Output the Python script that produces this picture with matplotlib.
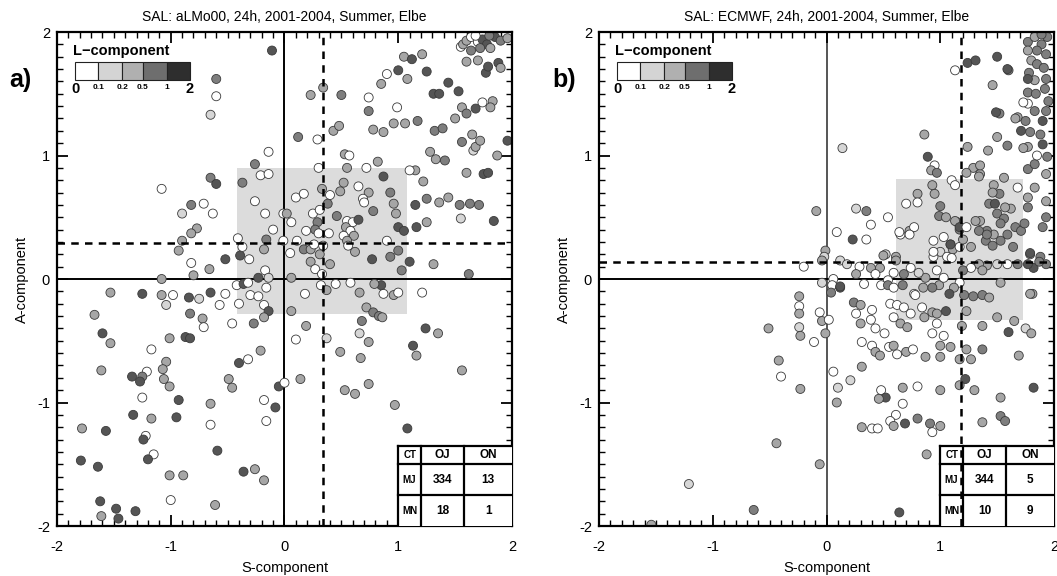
import matplotlib
matplotlib.use('Agg')
import matplotlib.pyplot as plt
from matplotlib.colors import ListedColormap, BoundaryNorm
from matplotlib.patches import Rectangle
from matplotlib.ticker import MultipleLocator

plt.rcParams['font.family'] = ['Liberation Sans', 'DejaVu Sans']
plt.rcParams['axes.unicode_minus'] = False

# ---------------- data ----------------
titles = ['SAL: aLMo00, 24h, 2001-2004, Summer, Elbe',
          'SAL: ECMWF, 24h, 2001-2004, Summer, Elbe']
panel_labels = ['a)', 'b)']
x_label = 'S-component'
y_label = 'A-component'
ticks = [-2, -1, 0, 1, 2]
l_title = 'L\u2212component'
l_bounds = [0, 0.1, 0.2, 0.5, 1, 2]
l_tick_labels = ['0', '0.1', '0.2', '0.5', '1', '2']
point_colors = ['#ffffff', '#d6d6d6', '#a6a6a6', '#7e7e7e', '#555555']
legend_colors = ['#ffffff', '#d4d4d4', '#b0b0b0', '#6e6e6e', '#2e2e2e']

# Panel a (aLMo00): S, A, L values
s_a = [-0.11, -0.60, -0.60, -0.65, -1.08, -0.65, -0.60, -0.82, -0.71, -0.90, -0.63, -0.77, -0.82, -0.90, -0.93,
       -0.82, -0.52, -0.80, -0.66, -1.08, -0.39, -0.31, -0.37, -0.26, -0.21, -0.14, -0.14, -0.26, -0.17, -0.10,
       -0.41, -0.37, -0.16, -0.18, -0.17, -0.23, -0.14, -0.42, -0.36, -0.01, 0.02, -0.01, 0.06, 0.12, 0.23,
       0.34, 0.50, 0.29, 0.43, 0.48, 0.53, 0.57, 0.30, 0.33, 0.55, 0.72, 0.82, 0.87, 0.10, 0.17,
       0.40, 0.52, 0.49, 0.65, 0.74, 0.69, 0.70, 0.78, 0.93, 0.96, 0.98, 0.25, 0.31, 0.38, 0.46,
       0.55, 0.60, 0.65, 0.29, 0.27, 0.19, 0.30, 0.39, 0.54, 0.58, 0.61, 0.52, 0.55, 0.11, 0.17,
       0.23, 0.26, 0.34, 0.56, 0.90, 1.00, 1.05, 0.05, 0.23, 0.31, 0.40, 0.27, 0.33, 0.62, 0.77,
       0.93, 1.00, 1.03, 1.10, 1.31, 1.62, 0.06, 1.16, 1.25, 1.15, 1.25, 1.36, 1.44, 1.54, 1.63,
       1.71, 1.55, 1.84, 1.22, 1.15, 1.10, 1.28, 1.41, 1.33, 1.60, 1.75, 1.79, 1.87, 1.66, 1.68,
       1.56, 1.65, 1.72, 1.96, 1.32, 1.39, 1.17, 0.96, 1.06, 0.78, 0.87, 0.74, 0.99, 0.74, 0.85,
       0.90, 1.00, 1.08, 1.05, 1.12, 1.21, 1.25, 1.31, 1.36, 1.44, 1.53, 1.56, 1.60, 1.68, 1.50,
       1.74, 1.83, 1.81, 1.60, 1.70, 1.77, 1.79, 1.88, 1.90, 1.55, 1.57, 1.60, 1.64, 1.64, 1.70,
       1.74, 1.78, 1.81, 1.85, 1.90, 1.96, 1.72, 1.80, 1.68,
       -1.53, -1.25, -1.08, -0.98, -1.04, -0.84, -0.75, -0.65, -0.52, -0.57, -0.83, -0.72, -0.71, -1.67, -1.60,
       -1.53, -1.17, -1.01, -0.87, -0.83, -1.04, -1.07, -1.21, -1.25, -1.34, -1.27, -1.06, -1.01, -1.61, -1.25,
       -0.93, -1.33, -1.17, -0.95, -1.78, -1.57, -1.22, -1.24, -1.15, -1.20, -1.79, -1.64, -1.01, -0.89, -1.62,
       -1.48, -1.61, -1.46, -1.31, -1.00, -0.61, -0.59, -0.65, -0.65, -0.36, -0.26, -0.18, -0.16, -0.18, -0.08,
       -0.05, 0.00, -0.49, -0.46, -0.40, -0.32, -0.21, -0.27, -0.46, -0.40, -0.30, -0.23, -0.18, -0.14, -0.18,
       -0.16, -0.32, 0.06, 0.10, 0.19, 0.18, 0.14, 0.32, 0.37, 0.45, 0.58, 0.66, 0.72, 0.78, 0.83,
       0.86, 0.68, 0.87, 0.96, 1.00, 0.85, 0.79, 0.66, 0.74, 0.37, 0.49, 0.67, 0.53, 0.62, 0.74,
       0.97, 1.08, 1.13, 1.16, 1.24, 1.35, 1.56, 1.21]
a_a = [1.85, 1.62, 1.48, 1.33, 0.73, 0.82, 0.77, 0.60, 0.61, 0.53, 0.53, 0.41, 0.37, 0.31, 0.23,
       0.13, 0.16, 0.03, 0.08, 0.00, 0.19, 0.16, 0.78, 0.93, 0.84, 0.85, 1.03, 0.63, 0.53, 0.40,
       0.33, 0.26, 0.32, 0.24, 0.07, 0.01, 0.01, -0.05, -0.04, 0.53, 0.53, 0.31, 0.46, 1.15, 1.49,
       1.55, 1.49, 1.13, 1.20, 1.24, 1.01, 1.00, 0.90, 0.73, 0.90, 0.90, 0.95, 0.83, 0.66, 0.69,
       0.68, 0.78, 0.71, 0.75, 0.70, 0.65, 0.62, 0.55, 0.70, 0.61, 0.53, 0.53, 0.56, 0.61, 0.51,
       0.47, 0.46, 0.48, 0.46, 0.40, 0.39, 0.37, 0.37, 0.42, 0.39, 0.35, 0.35, 0.31, 0.31, 0.24,
       0.24, 0.28, 0.27, 0.27, 0.31, 0.42, 0.39, 0.21, 0.14, 0.20, 0.12, 0.08, 0.04, 0.22, 0.16,
       0.18, 0.23, 0.07, 0.14, 0.12, 0.04, 0.01, 0.42, 0.46, 0.60, 0.65, 0.62, 0.66, 0.60, 0.61,
       0.60, 0.49, 0.47, 0.79, 0.88, 0.88, 1.03, 0.96, 0.97, 0.86, 0.85, 0.86, 1.00, 1.04, 1.07,
       1.11, 1.17, 1.12, 1.12, 1.20, 1.22, 1.28, 1.26, 1.26, 1.21, 1.19, 1.36, 1.39, 1.47, 1.58,
       1.66, 1.69, 1.62, 1.80, 1.78, 1.82, 1.68, 1.50, 1.50, 1.59, 1.52, 1.39, 1.34, 1.38, 1.30,
       1.43, 1.44, 1.39, 1.76, 1.77, 1.67, 1.72, 1.75, 1.71, 1.88, 1.90, 1.93, 1.85, 1.96, 1.92,
       1.94, 1.90, 1.87, 1.96, 1.93, 1.95, 1.87, 1.97, 1.97,
       -0.11, -0.12, -0.13, -0.13, -0.21, -0.15, -0.16, -0.11, -0.12, -0.21, -0.28, -0.32, -0.39, -0.29, -0.44,
       -0.52, -0.57, -0.48, -0.47, -0.48, -0.67, -0.73, -0.75, -0.79, -0.79, -0.83, -0.81, -0.87, -0.74, -0.96,
       -0.98, -1.10, -1.13, -1.12, -1.21, -1.23, -1.27, -1.30, -1.42, -1.46, -1.47, -1.52, -1.59, -1.59, -1.80,
       -1.86, -1.92, -1.94, -1.88, -1.79, -1.83, -1.39, -1.01, -1.18, -1.56, -1.54, -1.63, -1.15, -0.98, -1.04,
       -0.87, -0.84, -0.81, -0.88, -0.68, -0.65, -0.58, -0.36, -0.36, -0.20, -0.13, -0.14, -0.21, -0.26, -0.31,
       -0.07, -0.03, -0.26, -0.49, -0.38, -0.12, -0.81, -0.05, -0.09, -0.04, -0.03, -0.11, -0.23, -0.27, -0.30,
       -0.31, -0.34, -0.12, -0.13, -0.11, -0.05, -0.04, -0.44, -0.51, -0.48, -0.59, -0.64, -0.90, -0.93, -0.85,
       -1.02, -1.21, -0.54, -0.62, -0.40, -0.44, -0.74, -0.11]
l_a = [1.5, 0.7, 0.05, 0.15, 0.05, 0.7, 1.5, 0.7, 0.05, 0.15, 0.05, 0.35, 0.35, 0.35, 0.35,
       0.05, 1.5, 0.35, 0.35, 0.35, 1.5, 0.05, 0.7, 0.7, 0.05, 0.05, 0.05, 0.05, 0.05, 0.05,
       0.05, 0.05, 0.7, 0.35, 0.05, 1.5, 0.15, 0.05, 1.5, 0.05, 0.35, 0.05, 0.05, 0.7, 0.35,
       0.35, 0.7, 0.05, 0.35, 0.35, 0.35, 0.05, 0.05, 0.35, 0.35, 0.05, 0.35, 1.5, 0.05, 0.05,
       0.05, 0.35, 0.35, 0.05, 0.35, 0.05, 0.05, 0.7, 0.7, 0.35, 0.35, 0.05, 0.05, 0.7, 0.7,
       0.05, 0.05, 1.5, 0.7, 0.7, 0.05, 0.05, 0.05, 0.35, 0.05, 0.35, 0.05, 0.35, 0.05, 0.7,
       0.35, 0.05, 0.05, 0.05, 0.05, 1.5, 1.5, 0.05, 0.35, 0.35, 0.35, 0.05, 0.05, 0.35, 1.5,
       0.7, 0.7, 0.7, 1.5, 0.35, 0.7, 0.35, 1.5, 0.35, 1.5, 0.7, 0.35, 0.35, 0.7, 0.7,
       0.7, 0.15, 1.5, 0.35, 0.35, 0.05, 0.35, 0.7, 0.35, 0.35, 1.5, 1.5, 0.35, 0.15, 0.35,
       0.7, 0.35, 0.35, 1.5, 0.7, 0.7, 0.7, 0.35, 0.35, 0.35, 0.35, 0.7, 0.05, 0.05, 0.35,
       0.05, 1.5, 0.35, 0.35, 1.5, 0.35, 1.5, 1.5, 1.5, 1.5, 1.5, 0.35, 0.7, 1.5, 0.35,
       0.05, 0.35, 0.35, 0.35, 0.35, 1.5, 1.5, 1.5, 0.35, 0.05, 0.35, 0.35, 0.7, 0.05, 0.05,
       1.5, 1.5, 0.35, 1.5, 0.7, 0.35, 0.7, 0.7, 0.05,
       0.35, 1.5, 0.35, 0.05, 0.15, 1.5, 0.15, 1.5, 0.05, 0.05, 0.7, 0.35, 0.05, 0.35, 1.5,
       0.35, 0.05, 0.35, 1.5, 1.5, 0.35, 0.35, 0.05, 0.7, 1.5, 1.5, 0.35, 0.35, 0.35, 0.05,
       1.5, 1.5, 0.35, 1.5, 0.35, 1.5, 0.05, 1.5, 0.05, 1.5, 1.5, 1.5, 0.35, 0.35, 1.5,
       1.5, 0.35, 1.5, 1.5, 0.05, 0.35, 1.5, 0.35, 0.05, 1.5, 0.35, 0.35, 0.05, 0.05, 1.5,
       1.5, 0.05, 0.35, 0.35, 1.5, 0.05, 0.35, 0.7, 0.05, 0.05, 0.05, 0.05, 0.05, 1.5, 0.35,
       0.05, 0.05, 0.35, 0.05, 0.35, 0.05, 0.35, 0.05, 0.35, 0.05, 0.05, 0.35, 0.35, 0.7, 0.7,
       0.35, 0.7, 0.05, 0.35, 0.05, 1.5, 0.35, 0.15, 0.35, 0.15, 0.35, 0.35, 0.35, 0.35, 0.35,
       0.35, 1.5, 1.5, 0.35, 1.5, 0.35, 0.35, 0.05]
box_a = [-0.42, 1.08, -0.28, 0.90]     # S25, S75, A25, A75
median_a = [0.34, 0.29]                # S, A
table_a = [['CT', 'OJ', 'ON'], ['MJ', '334', '13'], ['MN', '18', '1']]

# Panel b (ECMWF): S, A, L values
s_b = [-0.09, 0.14, -0.20, -0.01, -0.02, -0.04, 0.12, 0.18, 0.09, 0.23, 0.35, 0.26, 0.35, 0.39, 0.54,
       0.06, 0.05, 0.12, -0.04, 0.29, 0.39, 0.47, 0.52, 0.43, 0.61, 0.86, 0.89, 0.95, 0.92, 0.97,
       1.10, 1.13, 0.80, 0.70, 0.80, 0.95, 1.00, 0.99, 1.05, 1.15, 0.73, 0.77, 0.65, 1.03, 1.09,
       0.94, 1.00, 1.11, 1.17, 1.06, 0.94, 1.17, 1.20, 1.27, 1.24, 1.29, 1.35, 1.42, 1.50, 1.59,
       1.52, 1.46, 1.60, 1.50, 1.24, 1.13, 1.43, 1.50, 1.56, 1.62, 1.53, 1.68, 1.66, 1.71, 1.74,
       1.59, 1.53, 1.47, 1.41, 1.35, 1.34, 1.40, 1.46, 1.64, 1.52, 1.57, 1.47, 1.56, 1.77, 1.77,
       1.83, 1.77, 1.83, 1.77, 1.85, 1.90, 1.68, 1.75, 1.77, 1.83, 1.90, 1.93, 1.71, 1.79, 1.88,
       1.77, 1.84, 1.92, 1.78, 1.80, 1.85, 1.91, 1.77, 1.83, 1.89, 1.93, 1.94, 1.89, 1.85, 1.77,
       1.93, 1.83, 1.77, 1.95, 1.94, 1.93, 1.93, 1.93, 1.90, 1.79, 1.88, 1.93, 1.68, 1.82, 1.77,
       1.59, 1.50, 1.41, 1.34, 1.37, 1.53, 1.27, 1.20, 1.17, 1.12, 1.08, 0.99, 0.93, 0.85, 0.77,
       1.21, 1.29, 1.37, 1.43, 1.81, 1.03, 0.97, 0.87, 0.81, 0.74, 0.68, 0.59, 0.54, 0.48, 0.54,
       0.59, 0.67, 0.33, 0.26,
       1.31, 1.59, 1.49, 1.66, 1.73, 1.73, 1.35, 1.34, 1.23, 1.46, 1.48, 0.93, 0.64, 0.73, 1.13,
       1.17, 1.23, 1.31, 1.41, 1.09, 0.61, 0.50, 0.94, 1.10, 1.79, 1.87,
       -0.24, -0.24, -0.24, -0.24, -0.23, -0.51, -0.06, -0.04, 0.02, -0.01, -0.11, 0.04, 0.12, -0.42, -0.40,
       -0.23, 0.06, 0.21, 0.10, 0.09, 0.31, -0.44, -0.06, -1.21, -0.64, -1.54, 0.64, 0.24, 0.30, 0.26,
       0.30, 0.40, 0.39, 0.43, 0.51, 0.31, 0.40, 0.43, 0.47, 0.55, 0.59, 0.62, 0.70, 0.76, 0.59,
       0.65, 0.71, 0.56, 0.62, 0.68, 0.74, 0.78, 0.84, 0.86, 0.93, 0.97, 0.93, 1.03, 1.00, 1.09,
       0.87, 1.00, 1.05, 0.97, 1.23, 1.19, 1.23, 1.27, 1.17, 1.37, 1.37, 1.50, 1.60, 1.65, 1.75,
       1.80, 1.69, 1.79, 1.22, 1.17, 1.30, 1.00, 0.80, 0.67, 0.48, 0.52, 0.46, 0.67, 0.61, 0.56,
       0.59, 0.69, 0.80, 0.91, 1.00, 0.93, 0.31, 0.40, 0.45, 0.88, 1.37, 1.53, 1.57, 1.53, 1.82]
a_b = [0.55, 1.06, 0.10, 0.23, 0.18, 0.15, 0.15, 0.12, 0.38, 0.32, 0.32, 0.57, 0.55, 0.44, 0.50,
       0.00, -0.05, -0.07, -0.03, 0.10, 0.09, 0.09, 0.20, 0.04, 0.18, 1.17, 0.99, 0.92, 0.88, 0.86,
       0.80, 0.76, 0.69, 0.61, 0.62, 0.69, 0.59, 0.51, 0.50, 0.46, 0.39, 0.42, 0.36, 0.34, 0.28,
       0.31, 0.22, 0.24, 0.26, 0.18, 0.18, 0.40, 0.32, 0.26, 1.07, 0.90, 0.85, 1.04, 1.15, 1.08,
       1.34, 1.57, 1.69, 1.80, 1.75, 1.69, 0.61, 0.53, 0.49, 0.57, 0.45, 0.74, 0.42, 0.39, 0.45,
       0.36, 0.31, 0.36, 0.39, 0.47, 0.39, 0.31, 0.27, 0.26, 0.69, 0.58, 0.76, 0.82, 0.58, 0.66,
       0.74, 0.89, 0.93, 1.07, 1.00, 1.09, 1.31, 1.28, 1.42, 1.36, 1.28, 1.36, 1.20, 1.19, 1.17,
       1.51, 1.50, 1.54, 1.67, 1.77, 1.74, 1.71, 1.92, 1.96, 1.90, 1.82, 1.96, 1.98, 1.85, 1.85,
       1.62, 1.61, 1.62, 1.44, 0.99, 0.85, 0.63, 0.50, 0.42, 0.20, 0.18, 0.12, 0.12, 0.09, 0.12,
       0.12, 0.12, 0.11, 0.12, 0.07, -0.03, 0.09, 0.07, -0.03, -0.07, -0.12, -0.05, -0.07, -0.07, -0.12,
       -0.13, -0.14, -0.13, -0.15, -0.12, 0.01, 0.07, 0.01, 0.05, 0.09, 0.04, 0.05, -0.01, -0.05, -0.05,
       -0.07, -0.05, -0.04, 0.04,
       1.77, 1.70, 1.35, 1.30, 1.43, 1.06, 0.92, 0.83, 0.86, 0.70, 0.61, 0.76, 0.38, 0.36, 0.47,
       0.42, 0.42, 0.47, 0.36, 0.28, 0.15, 0.19, 0.22, 0.17, 0.21, 0.14,
       -0.14, -0.22, -0.28, -0.39, -0.46, -0.40, -0.27, -0.34, -0.33, -0.44, -0.51, -0.11, -0.06, -0.66, -0.79,
       -0.89, -0.75, -0.82, -0.88, -1.00, -0.71, -1.33, -1.50, -1.66, -1.87, -1.99, -1.89, -0.19, -0.21, -0.28,
       -0.36, -0.25, -0.33, -0.40, -0.44, -0.51, -0.54, -0.59, -0.62, -0.55, -0.54, -0.61, -0.59, -0.57, -0.31,
       -0.36, -0.39, -0.20, -0.21, -0.23, -0.28, -0.13, -0.23, -0.31, -0.27, -0.36, -0.44, -0.46, -0.54, -0.55,
       -0.63, -0.63, -0.26, -0.28, -0.26, -0.38, -0.57, -0.65, -0.65, -0.57, -0.38, -0.31, -0.43, -0.34, -0.40,
       -0.44, -0.62, -0.12, -0.81, -0.86, -0.90, -0.90, -0.87, -0.88, -0.90, -0.96, -0.97, -1.01, -1.10, -1.15,
       -1.19, -1.17, -1.13, -1.17, -1.19, -1.24, -1.20, -1.21, -1.21, -1.42, -1.16, -1.11, -1.15, -0.96, -0.88]
l_b = [0.35, 0.15, 0.05, 0.35, 0.15, 0.35, 0.15, 0.15, 0.05, 1.5, 0.05, 0.15, 0.7, 0.05, 0.05,
       0.05, 0.05, 1.5, 0.15, 0.05, 0.35, 0.35, 0.15, 0.05, 0.35, 0.35, 1.5, 0.05, 0.35, 0.7,
       0.05, 0.05, 0.35, 0.05, 0.05, 0.35, 0.7, 0.7, 0.35, 0.7, 0.35, 0.05, 0.05, 0.05, 0.35,
       0.05, 0.15, 0.35, 0.05, 0.05, 0.05, 0.7, 0.35, 0.35, 0.35, 0.35, 0.35, 0.35, 0.35, 0.7,
       0.7, 0.35, 0.7, 1.5, 1.5, 0.05, 0.7, 0.7, 0.7, 0.35, 0.7, 0.05, 0.7, 0.7, 0.7,
       0.7, 0.7, 0.35, 0.7, 0.35, 0.7, 0.7, 0.7, 0.7, 0.7, 0.35, 0.35, 0.35, 0.7, 0.35,
       0.35, 0.7, 0.7, 0.35, 0.05, 1.5, 0.35, 0.7, 0.05, 0.7, 1.5, 0.7, 1.5, 0.7, 0.7,
       0.7, 0.7, 0.7, 0.7, 0.35, 0.7, 0.7, 0.7, 0.35, 0.7, 0.7, 0.7, 0.7, 0.7, 0.35,
       0.7, 0.35, 1.5, 0.7, 0.7, 0.35, 0.35, 0.7, 0.7, 0.35, 0.7, 0.7, 0.7, 1.5, 1.5,
       0.05, 0.15, 0.35, 0.35, 0.35, 0.35, 0.05, 0.7, 0.05, 0.35, 1.5, 0.35, 0.7, 0.35, 0.05,
       0.7, 0.7, 0.7, 0.35, 0.35, 0.05, 0.05, 0.35, 0.15, 0.05, 0.7, 0.05, 0.05, 0.05, 0.7,
       0.05, 0.7, 0.05, 0.35,
       1.5, 1.5, 1.5, 0.35, 0.05, 0.35, 0.35, 0.35, 0.35, 0.35, 1.5, 0.35, 0.05, 0.05, 0.35,
       1.5, 0.05, 0.35, 0.7, 1.5, 0.35, 0.35, 0.05, 0.05, 1.5, 0.7,
       0.35, 0.05, 0.35, 0.15, 0.35, 0.35, 0.05, 0.35, 0.05, 0.35, 0.05, 0.7, 1.5, 0.35, 0.05,
       0.35, 0.05, 0.15, 0.15, 0.35, 0.35, 0.35, 0.35, 0.15, 0.7, 0.35, 1.5, 0.7, 0.35, 0.05,
       0.35, 0.05, 0.05, 0.05, 0.05, 0.05, 0.05, 0.35, 0.35, 0.05, 0.35, 0.05, 0.35, 0.05, 0.05,
       0.35, 0.35, 0.05, 0.05, 0.05, 0.05, 0.05, 0.05, 0.35, 0.35, 0.05, 0.05, 0.05, 0.35, 0.35,
       0.35, 0.35, 1.5, 0.35, 0.35, 0.35, 0.35, 0.35, 0.35, 0.7, 0.35, 0.35, 1.5, 0.35, 0.15,
       0.35, 0.35, 0.35, 1.5, 0.35, 0.35, 0.35, 0.05, 0.35, 0.05, 1.5, 0.35, 0.05, 0.05, 0.05,
       0.35, 1.5, 0.7, 0.7, 0.35, 0.05, 0.35, 0.05, 0.05, 0.35, 0.35, 0.7, 0.7, 0.35, 1.5]
box_b = [0.61, 1.73, -0.33, 0.81]
median_b = [1.18, 0.14]
table_b = [['CT', 'OJ', 'ON'], ['MJ', '344', '5'], ['MN', '10', '9']]

# ---------------- drawing ----------------
cmap = ListedColormap(point_colors)
norm = BoundaryNorm(l_bounds, cmap.N)

fig = plt.figure(figsize=(10.57, 5.76), dpi=100)
ax_a = fig.add_axes([0.0539, 0.0868, 0.4305, 0.8576])
ax_b = fig.add_axes([0.5667, 0.0868, 0.4305, 0.8576])

panels = [
    (ax_a, s_a, a_a, l_a, box_a, median_a, table_a, titles[0], panel_labels[0], 0.019, 'black'),
    (ax_b, s_b, a_b, l_b, box_b, median_b, table_b, titles[1], panel_labels[1], 0.534, '#555555'),
]

for ax, s, a, l, box, med, table, title, plabel, plx, vcol in panels:
    ax.set_xlim(-2, 2)
    ax.set_ylim(-2, 2)
    # interquartile box
    ax.add_patch(Rectangle((box[0], box[2]), box[1] - box[0], box[3] - box[2],
                           facecolor='#dcdcdc', edgecolor='none', zorder=0))
    # zero lines
    ax.axvline(0, color=vcol, lw=1.4, zorder=1)
    ax.axhline(0, color='black', lw=1.4, zorder=1)
    # points
    ax.scatter(s, a, c=l, cmap=cmap, norm=norm, s=42, edgecolors='#3a3a3a',
               linewidths=0.6, zorder=2)
    # contingency table
    xe = [1.0, 1.2, 1.58, 2.0]
    ye = [-1.35, -1.5, -1.75, -2.0]
    ax.add_patch(Rectangle((xe[0], ye[-1]), xe[-1] - xe[0], ye[0] - ye[-1],
                           facecolor='white', edgecolor='none', zorder=3))
    for xv in xe[:3]:
        ax.plot([xv, xv], [ye[0], ye[-1]], color='black', lw=1.6, zorder=4,
                solid_capstyle='projecting')
    for yv in ye[:3]:
        ax.plot([xe[0], xe[-1]], [yv, yv], color='black', lw=1.6, zorder=4,
                solid_capstyle='projecting')
    for r in range(3):
        for c in range(3):
            cx = (xe[c] + xe[c + 1]) / 2
            cy = (ye[r] + ye[r + 1]) / 2
            txt = table[r][c]
            fs = 7 if c == 0 else 8.5
            ax.text(cx, cy, txt, ha='center', va='center', fontsize=fs,
                    fontweight='bold', zorder=5)
    # median lines
    ax.axvline(med[0], color='black', lw=1.8, ls=(0, (3, 2.5)), zorder=6)
    ax.axhline(med[1], color='black', lw=1.8, ls=(0, (3, 2.5)), zorder=6)

    # ticks
    ax.set_xticks(ticks)
    ax.set_yticks(ticks)
    ax.xaxis.set_minor_locator(MultipleLocator(0.1))
    ax.yaxis.set_minor_locator(MultipleLocator(0.1))
    ax.tick_params(which='major', direction='in', top=True, right=True,
                   length=8, width=1.3, labelsize=10.5)
    ax.tick_params(which='minor', direction='in', top=True, right=True,
                   length=4, width=1.0)
    ax.tick_params(axis='x', which='major', pad=10)
    ax.tick_params(axis='y', which='major', pad=5)
    for sp in ax.spines.values():
        sp.set_linewidth(1.6)
    ax.set_xlabel(x_label, fontsize=10.5, labelpad=5)
    ax.set_ylabel(y_label, fontsize=10.5, labelpad=6)
    ax.set_title(title, fontsize=10, pad=8)

    # L-component legend
    ax.text(0.035, 0.962, l_title, transform=ax.transAxes, fontsize=10.5,
            fontweight='bold', ha='left', va='center', zorder=7)
    bx0, bx1, by0, by1 = 0.040, 0.292, 0.903, 0.939
    fr = [0.0, 0.2, 0.41, 0.59, 0.80, 1.0]
    for i, col in enumerate(legend_colors):
        ax.add_patch(Rectangle((bx0 + fr[i] * (bx1 - bx0), by0),
                               (fr[i + 1] - fr[i]) * (bx1 - bx0), by1 - by0,
                               facecolor=col, edgecolor='#222222', lw=0.8,
                               transform=ax.transAxes, zorder=7))
    for i, lab in enumerate(l_tick_labels):
        big = lab in ('0', '2')
        xpos = bx0 + fr[i] * (bx1 - bx0)
        ax.text(xpos, 0.885 if big else 0.888, lab, transform=ax.transAxes,
                fontsize=10.5 if big else 6, fontweight='bold',
                ha='center', va='center', zorder=7)

    fig.text(plx, 0.861, plabel, fontsize=18, fontweight='bold',
             ha='center', va='center')

fig.savefig('out.png', dpi=100)
